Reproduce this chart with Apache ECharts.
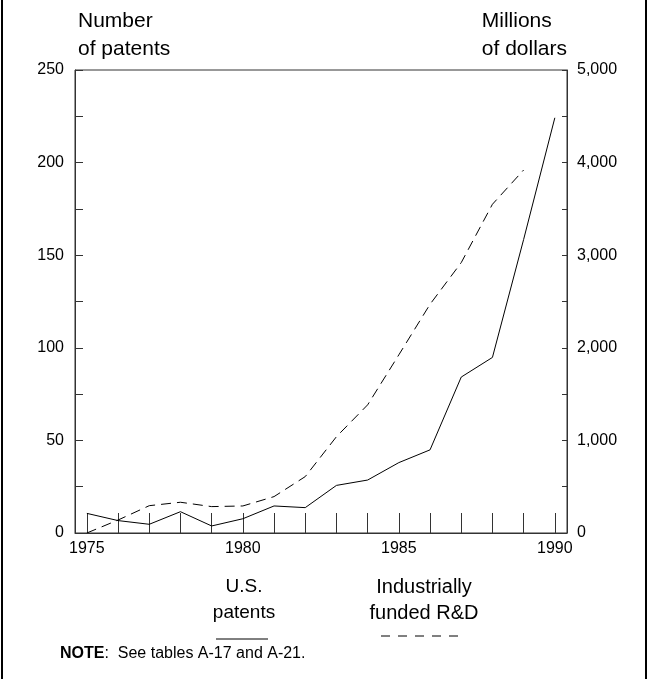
<!DOCTYPE html>
<html>
<head>
<meta charset="utf-8">
<script src="https://cdn.jsdelivr.net/npm/echarts@6/dist/echarts.min.js"></script>
<style>
html,body{margin:0;padding:0;background:#fff;}
#chart{width:649px;height:679px;}
</style>
</head>
<body>
<div id="chart"></div>
<script>
const years = [1975,1976,1977,1978,1979,1980,1981,1982,1983,1984,1985,1986,1987,1988,1989,1990];
const patents = [10.6, 6.7, 4.7, 11.5, 3.8, 7.7, 14.6, 13.7, 25.7, 28.6, 38.0, 44.9, 84.2, 94.8, 158.5, 224.2];
const industryRD = [0, 140, 295, 332, 285, 292, 393, 609, 1040, 1384, 1924, 2470, 2920, 3550, 3920, null];
const xLabelYears = [1975, 1980, 1985, 1990];
const leftTicks = [0,25,50,75,100,125,150,175,200,225,250];
const leftLabels = [0,50,100,150,200,250];
const rightTicks = [0,500,1000,1500,2000,2500,3000,3500,4000,4500,5000];
const rightLabels = [0,1000,2000,3000,4000,5000];

const FONT = '"Liberation Sans", Arial, Helvetica, sans-serif';
const AX = '#333';

const chart = echarts.init(document.getElementById('chart'), null, {renderer: 'canvas'});

const patentData = years.map((y, i) => [y, patents[i]]);
const rdData = years.map((y, i) => [y, industryRD[i]]).filter(d => d[1] !== null);

chart.setOption({
  animation: false,
  backgroundColor: '#fff',
  grid: {left: 75, right: 82, top: 70, bottom: 146, show: true, borderColor: AX, borderWidth: 1},
  xAxis: {
    type: 'value', min: 1974.62, max: 1990.39,
    axisLine: {show: true, lineStyle: {color: AX, width: 1}},
    axisTick: {show: true, inside: true, length: 20, customValues: years, lineStyle: {color: AX}},
    axisLabel: {customValues: xLabelYears, color: '#000', fontSize: 16, fontFamily: FONT, margin: 8, formatter: v => String(v)},
    splitLine: {show: false}
  },
  yAxis: [
    {
      type: 'value', min: 0, max: 250, position: 'left',
      axisLine: {show: true, lineStyle: {color: AX}},
      axisTick: {show: true, inside: true, length: 8, customValues: leftTicks, lineStyle: {color: AX}},
      axisLabel: {customValues: leftLabels, color: '#000', fontSize: 16, fontFamily: FONT, margin: 11},
      splitLine: {show: false}
    },
    {
      type: 'value', min: 0, max: 5000, position: 'right',
      axisLine: {show: true, lineStyle: {color: AX}},
      axisTick: {show: true, inside: true, length: 5, customValues: rightTicks, lineStyle: {color: AX}},
      axisLabel: {customValues: rightLabels, color: '#000', fontSize: 16, fontFamily: FONT, margin: 10,
        formatter: v => v === 0 ? '0' : String(v).replace(/\B(?=(\d{3})+(?!\d))/g, ',')},
      splitLine: {show: false}
    }
  ],
  series: [
    {name: 'U.S. patents', type: 'line', yAxisIndex: 0, data: patentData, symbol: 'none',
     lineStyle: {color: '#000', width: 1}},
    {name: 'Industrially funded R&D', type: 'line', yAxisIndex: 1, data: rdData, symbol: 'none',
     lineStyle: {color: '#000', width: 1, type: [10, 6]}}
  ],
  graphic: [
    {type: 'line', shape: {x1: 2, y1: 0, x2: 2, y2: 679}, style: {stroke: '#000', lineWidth: 2}},
    {type: 'line', shape: {x1: 646, y1: 0, x2: 646, y2: 679}, style: {stroke: '#000', lineWidth: 2}},
    {type: 'text', left: 78, top: 7, style: {text: 'Number\nof patents', font: '21px ' + FONT, fill: '#000', lineHeight: 28}},
    {type: 'text', right: 82, top: 7, style: {text: 'Millions\nof dollars', font: '21px ' + FONT, fill: '#000', lineHeight: 28, align: 'right'}},
    {type: 'text', x: 244, y: 574, style: {text: 'U.S.\npatents', font: '19px ' + FONT, fill: '#000', lineHeight: 26, align: 'center'}},
    {type: 'line', shape: {x1: 216, y1: 639, x2: 268, y2: 639}, style: {stroke: '#000', lineWidth: 1}},
    {type: 'text', x: 424, y: 574, style: {text: 'Industrially\nfunded R&D', font: '20px ' + FONT, fill: '#000', lineHeight: 26, align: 'center'}},
    {type: 'line', shape: {x1: 381, y1: 636, x2: 458, y2: 636}, style: {stroke: '#000', lineWidth: 1, lineDash: [9, 8]}},
    {type: 'text', x: 60, y: 646, style: {
      text: '{b|NOTE}{n|:  See tables A-17 and A-21.}',
      rich: {b: {font: 'bold 16px ' + FONT, fill: '#000'}, n: {font: '16px ' + FONT, fill: '#000'}}
    }}
  ]
});
</script>
</body>
</html>
